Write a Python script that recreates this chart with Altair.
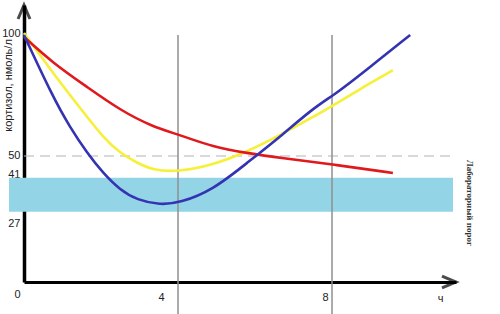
import altair as alt
import pandas as pd

# ---- data ----
blue_x = [0, 0.75, 1.19, 1.64, 2.05, 2.49, 2.94, 3.53, 4.05, 4.91, 5.79, 6.65, 7.51, 8.13, 8.99, 10.03]
blue_y = [100, 74.4, 62.0, 51.2, 43.0, 36.0, 31.8, 29.8, 30.6, 36.0, 47.1, 57.9, 69.8, 76.0, 86.8, 100.0]

yellow_x = [0, 0.75, 1.64, 2.05, 2.49, 2.94, 3.35, 3.97, 4.91, 5.79, 6.65, 7.51, 8.13, 8.86, 9.58]
yellow_y = [100.8, 84.3, 66.1, 57.9, 51.2, 47.1, 44.2, 43.4, 46.3, 51.7, 58.7, 66.1, 71.9, 78.9, 85.5]

red_x = [0, 0.75, 1.64, 2.49, 3.35, 4.05, 4.91, 5.79, 6.65, 8.13, 9.58]
red_y = [99.2, 88.4, 78.5, 69.0, 62.0, 58.7, 53.7, 51.2, 49.2, 46.3, 43.0]

x_ticks = [4, 8]
y_ticks = [0, 27, 41, 50, 100]
band_low, band_high = 27, 41
threshold = 50
y_title = "кортизол, нмоль/л"
x_title = "ч"
band_label = "Лабораторный порог"

series_names = ["yellow", "red", "blue"]
series_colors = ["#f6f03a", "#e0191e", "#3434b2"]

rows = []
for name, xs, ys in [("yellow", yellow_x, yellow_y), ("red", red_x, red_y), ("blue", blue_x, blue_y)]:
    for i, (a, b) in enumerate(zip(xs, ys)):
        rows.append({"s": name, "x": a, "y": b, "i": i})
df = pd.DataFrame(rows)

W, H = 432, 277
xs = alt.Scale(domain=[0, 11.22], nice=False, zero=False)
ys = alt.Scale(domain=[-2.07, 112.4], nice=False, zero=False)
FONT = "Liberation Sans"

band = alt.Chart(pd.DataFrame({"lo": [band_low], "hi": [band_high]})).mark_rect(
    color="#93d4e7", clip=False
).encode(
    x=alt.value(-15), x2=alt.value(W - 3),
    y=alt.Y("hi:Q", scale=ys), y2="lo:Q",
)

dash = alt.Chart(pd.DataFrame({"t": [threshold]})).mark_rule(
    color="#b3b3b3", strokeWidth=1, strokeDash=[10, 6]
).encode(x=alt.value(0), x2=alt.value(W), y=alt.Y("t:Q", scale=ys))

grid = alt.Chart(pd.DataFrame({"g": x_ticks})).mark_rule(
    color="#8f8f8f", strokeWidth=1.5, clip=False
).encode(x=alt.X("g:Q", scale=xs), y=alt.value(30), y2=alt.value(H + 35))

lines = alt.Chart(df).mark_line(strokeWidth=2.6, interpolate="basis").encode(
    x=alt.X("x:Q", scale=xs,
            axis=alt.Axis(values=x_ticks, title=x_title, grid=False, ticks=False, tickSize=0,
                          domainColor="black", domainWidth=3, labelPadding=9,
                          labelBaseline="top", labelFont=FONT, labelFontSize=11,
                          labelColor="#222",
                          labelOffset={"condition": [{"test": "datum.value == 4", "value": -17}],
                                       "value": -7},
                          titleX=416, titleY=10, titleBaseline="top", titleAlign="center",
                          titleFont=FONT, titleFontSize=11, titleFontWeight="normal",
                          titleColor="#222")),
    y=alt.Y("y:Q", scale=ys,
            axis=alt.Axis(values=y_ticks, title=y_title, grid=False, ticks=False, tickSize=0,
                          domainColor="black", domainWidth=3.5, labelPadding=4,
                          labelFont=FONT, labelFontSize=11, labelColor="#222",
                          labelOverlap=False, labelBaseline="middle",
                          labelOffset={"condition": [
                              {"test": "datum.value == 100", "value": -2},
                              {"test": "datum.value == 41", "value": -3},
                              {"test": "datum.value == 27", "value": 12},
                              {"test": "datum.value == 0", "value": 18}],
                              "value": 0},
                          titleX=-16, titleY=80, titleAngle=-90, titleAlign="center",
                          titleBaseline="middle", titleFont=FONT, titleFontSize=11,
                          titleFontWeight="normal", titleColor="#222")),
    color=alt.Color("s:N", scale=alt.Scale(domain=series_names, range=series_colors), legend=None),
    order="i:Q",
    detail="s:N",
)

arrow_up = alt.Chart(pd.DataFrame({"a": [0]})).mark_point(
    shape="M-0.85,1 L0,-1 L0.85,1", filled=False, stroke="black", strokeWidth=3,
    size=196, clip=False
).encode(x=alt.value(0), y=alt.value(7))

arrow_right = alt.Chart(pd.DataFrame({"a": [0]})).mark_point(
    shape="M-1,-0.85 L1,0 L-1,0.85", filled=False, stroke="black", strokeWidth=3,
    size=196, clip=False
).encode(x=alt.value(W - 7), y=alt.value(H))

side_text = alt.Chart(pd.DataFrame({"t": [band_label]})).mark_text(
    angle=90, font="Liberation Serif", fontSize=9, fontWeight="bold", color="#333",
    align="center", baseline="middle", clip=False
).encode(x=alt.value(446), y=alt.value(198), text="t:N")

chart = alt.layer(band, dash, grid, lines, arrow_up, arrow_right, side_text).properties(
    width=W, height=H,
    padding={"left": 24, "top": 5, "right": 44, "bottom": 32},
    autosize=alt.AutoSizeParams(type="none"),
    background="white",
).configure_view(stroke=None)

chart.save("out.html", embed_options={"renderer": "svg", "actions": False})
